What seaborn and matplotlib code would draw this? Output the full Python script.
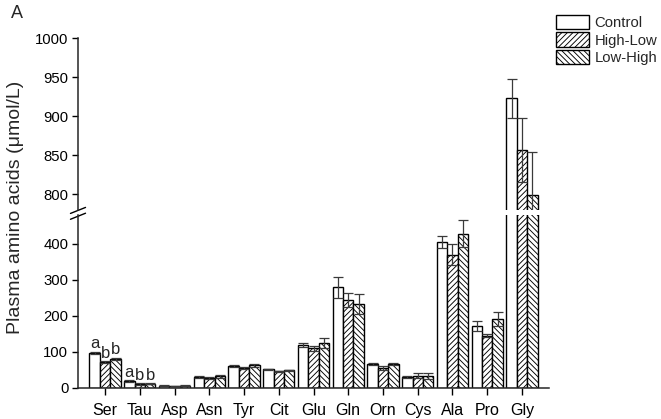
import matplotlib
matplotlib.use("Agg")
import matplotlib.pyplot as plt
from matplotlib.patches import Patch
import numpy as np
import pandas as pd
import seaborn as sns

amino = ["Ser", "Tau", "Asp", "Asn", "Tyr", "Cit", "Glu", "Gln", "Orn", "Cys", "Ala", "Pro", "Gly"]
groups = ["Control", "High-Low", "Low-High"]

control = [98, 20, 6, 31, 61, 52, 119, 279, 67, 31, 404, 172, 923]
high_low = [72, 11, 5, 28, 55, 46, 110, 244, 55, 34, 370, 145, 857]
low_high = [81, 12, 6, 32, 63, 49, 124, 233, 66, 33, 428, 191, 799]

control_err = [3, 2, 1, 2, 2, 2, 5, 30, 3, 2, 17, 14, 25]
high_low_err = [3, 2, 1, 2, 2, 2, 6, 20, 5, 7, 30, 4, 41]
low_high_err = [3, 2, 1, 5, 4, 2, 14, 27, 2, 8, 38, 19, 55]

letters = {"Ser": ["a", "b", "b"], "Tau": ["a", "b", "b"]}

hatches = ["", "//////", "\\\\\\\\\\\\"]

df = pd.DataFrame({
    "aa": amino * 3,
    "group": np.repeat(groups, len(amino)),
    "value": control + high_low + low_high,
    "err": control_err + high_low_err + low_high_err,
})

sns.set_style("ticks")
plt.rcParams["font.family"] = ["Liberation Sans", "DejaVu Sans"]
plt.rcParams["hatch.linewidth"] = 0.65
plt.rcParams["axes.linewidth"] = 1.1

fig = plt.figure(figsize=(6.61, 4.19), dpi=100)
ax_top = fig.add_axes([0.118, 0.4988, 0.7126, 0.4105])
ax_bot = fig.add_axes([0.118, 0.074, 0.7126, 0.413])

for ax in (ax_top, ax_bot):
    sns.barplot(data=df, x="aa", y="value", hue="group", hue_order=groups,
                palette=["white"] * 3, edgecolor="black", linewidth=1,
                width=0.9, gap=0, errorbar=None, legend=False, ax=ax)
    for cont, h, g in zip(ax.containers, hatches, groups):
        sub = df[df["group"] == g]
        xs, ys = [], []
        for bar in cont:
            bar.set_hatch(h)
            xs.append(bar.get_x() + bar.get_width() / 2)
            ys.append(bar.get_height())
        ax.errorbar(xs, ys, yerr=sub["err"].values, fmt="none", ecolor="#3a3a3a",
                    elinewidth=0.9, capsize=3.5, capthick=0.9, zorder=3)
    ax.set_xlim(-0.78, len(amino) - 0.22)
    ax.set_xlabel("")
    ax.set_ylabel("")
    sns.despine(ax=ax)
    ax.tick_params(axis="both", direction="out", length=4, width=1, labelsize=10.7,
                   colors="black", pad=3)

ax_top.set_ylim(780, 1000)
ax_top.set_yticks([800, 850, 900, 950, 1000])
ax_top.spines["bottom"].set_visible(False)
ax_top.tick_params(axis="x", bottom=False, labelbottom=False)

ax_bot.set_ylim(0, 480)
ax_bot.set_yticks([0, 100, 200, 300, 400])
ax_bot.tick_params(axis="x", length=5, pad=6, labelsize=11.5)

# significance letters
for i, g in enumerate(groups):
    bars = ax_bot.containers[i]
    sub = df[df["group"] == g].reset_index(drop=True)
    for aa, lab in letters.items():
        j = amino.index(aa)
        bar = bars[j]
        ax_bot.text(bar.get_x() + bar.get_width() / 2, sub.loc[j, "value"] + sub.loc[j, "err"] + 1,
                    lab[i], ha="center", va="bottom", fontsize=12)

# break marks
ax_bot.plot([-0.016, 0.016], [0.975, 1.01], transform=ax_bot.transAxes,
            color="black", lw=1, clip_on=False)
ax_top.plot([-0.016, 0.016], [-0.02, 0.015], transform=ax_top.transAxes,
            color="black", lw=1, clip_on=False)

fig.text(0.024, 0.505, "Plasma amino acids (\u03bcmol/L)", rotation=90,
         va="center", ha="center", fontsize=14)
fig.text(0.017, 0.988, "A", va="top", ha="left", fontsize=13)

handles = [Patch(facecolor="white", edgecolor="black", hatch=h, linewidth=1) for h in hatches]
fig.legend(handles, groups, loc="upper left", bbox_to_anchor=(556 / 661, 1 - 15 / 419),
           frameon=False, handlelength=2.25, handleheight=1.1, labelspacing=0.15,
           borderpad=0, borderaxespad=0, handletextpad=0.35, fontsize=10.7)

fig.savefig("out.png", dpi=100)
